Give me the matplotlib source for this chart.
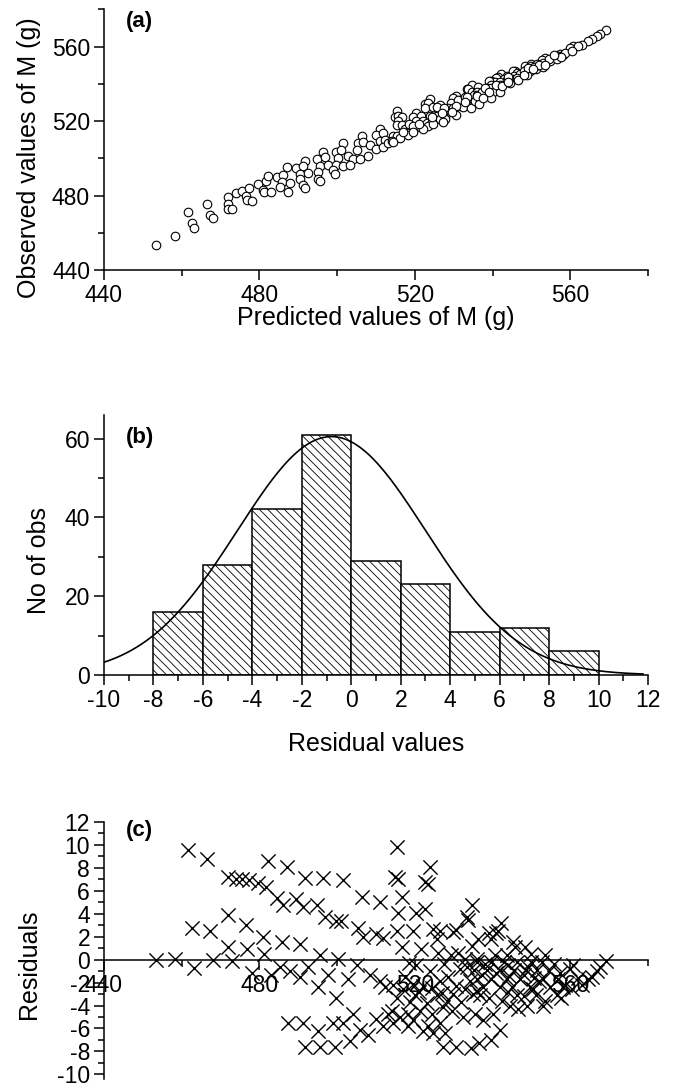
import numpy as np
import matplotlib
matplotlib.use("Agg")
import matplotlib.pyplot as plt
from matplotlib.ticker import MultipleLocator

plt.rcParams['font.family'] = ['Liberation Sans', 'DejaVu Sans']
plt.rcParams['hatch.linewidth'] = 0.6
plt.rcParams['axes.unicode_minus'] = False

#--- data ---#

# panel (c): residual vs predicted M (g); panel (a) uses observed = predicted + residual
predicted = [
    453.5, 458.2, 461.6, 462.7, 463.1, 466.5, 467.2, 468.1, 471.8, 471.8,
    471.9, 473.0, 474.1, 475.4, 476.5, 476.7, 477.3, 478.0, 479.7, 480.9,
    481.2, 481.6, 482.1, 484.4, 483.1,
    487.0, 491.7, 496.4, 501.5, 506.3, 511.0, 486.1, 489.5, 491.2, 494.7,
    496.8, 499.8, 501.1, 505.4, 506.7, 510.1, 511.8, 485.7, 490.4, 495.5,
    500.3, 505.0, 485.2, 487.8, 490.4, 492.5, 497.7, 502.8, 495.1, 499.8,
    508.4, 511.0, 512.3, 487.4, 491.2, 495.1, 499.0, 501.5, 504.1, 505.8,
    508.0, 510.1, 511.8, 513.1, 491.7, 495.5, 499.4, 503.3,
    515.5, 514.8, 515.7, 523.9, 522.6, 523.4, 516.6, 515.7, 520.4, 522.6,
    534.6, 533.3, 533.6, 515.3, 519.6, 524.7, 526.4, 530.7, 529.9, 516.6,
    521.7, 526.0, 529.4, 534.6, 535.9, 520.4, 523.9, 517.4, 528.6, 531.6,
    514.4, 522.2, 526.4, 534.1, 515.3, 518.7, 520.0, 523.0, 525.6, 528.2,
    529.9, 532.0, 535.0, 514.0, 516.1, 518.3, 521.3, 524.3, 527.3, 532.4,
    514.4, 518.3, 523.4, 526.4, 522.2, 524.7, 527.7, 527.3, 530.7, 534.5,
    542.3, 541.4, 541.0, 536.3, 539.7, 545.7, 548.3, 550.0, 553.5, 543.6,
    540.6, 557.3, 539.1, 525.8, 545.2, 531.0, 533.0,
    536.0, 539.5, 542.9, 546.3, 549.8, 552.8,
    535.1, 538.6, 542.0, 545.4, 548.5, 551.5,
    536.0, 539.5, 543.7, 547.1, 553.1, 556.9,
    537.6, 541.9, 544.9, 549.6, 554.8, 558.2,
    536.7, 546.2, 551.3, 556.5,
    544.5, 548.8, 553.1, 546.6, 535.4, 540.1, 541.9, 536.5, 539.5,
    569.3, 567.6, 566.8, 565.5, 564.6, 560.8, 559.9, 562.9, 558.6, 557.7, 562.0,
    518.5, 527.5, 533.5, 537.2, 540.8, 544.2, 548.0, 550.6, 554.5, 555.7,
    544.0, 538.0, 549.0, 552.0,
    517.0, 519.5, 521.0, 524.5, 527.0, 530.5, 533.0, 536.0, 539.0, 542.5,
    544.0, 548.0, 550.5, 553.5, 560.5,
    529.5, 537.5, 519.5,
]
residuals = [
    0.0, 0.1, 9.55, 2.8, -0.7, 8.8, 2.5, 0.0, 7.2, 3.9,
    1.1, -0.1, 7.0, 7.0, 3.0, 0.9, 6.9, -1.2, 6.7, 2.0,
    0.5, 6.3, 8.6, 5.4, -1.3,
    8.1, 7.1, 7.1, 6.9, 5.5, 5.0, 4.8, 5.3, 4.6, 4.8,
    3.7, 3.4, 3.4, 2.8, 2.0, 2.2, 1.9, 1.5, 1.4, 0.4,
    0.1, -0.5, -0.6, -1.0, -1.5, -0.6, -1.3, -1.7, -2.4, -3.3,
    -1.3, -1.9, -2.4, -5.5, -5.5, -6.2, -5.5, -5.5, -4.7, -6.1,
    -6.6, -5.2, -5.8, -4.7, -7.6, -7.6, -7.6, -7.1,
    9.8, 7.2, 7.0, 8.1, 6.8, 6.6, 5.5, 4.1, 4.1, 4.4,
    4.8, 3.7, 3.5, 2.5, 2.5, 2.7, 2.5, 2.6, 2.4, 1.1,
    0.9, 0.6, 0.4, 1.2, 0.1, -0.5, -1.0, -1.5, -1.5, -0.8,
    -2.2, -2.3, -1.9, -1.9, -3.3, -3.7, -3.1, -3.8, -3.1, -3.6,
    -3.0, -3.7, -3.0, -4.5, -5.0, -4.7, -4.5, -4.7, -4.1, -5.0,
    -5.5, -5.8, -5.8, -5.5, -6.2, -6.4, -6.4, -7.6, -7.6, -7.7,
    3.2, 2.5, 2.3, 1.8, 1.8, 1.1, 1.1, 0.5, 0.4, 0.4,
    0.4, -1.2, 2.3, 1.8, 1.5, 0.6, 0.1,
    -0.2, -0.2, -0.2, -0.2, -0.2, -0.2,
    -0.9, -0.9, -0.9, -0.9, -0.9, -0.9,
    -1.7, -1.7, -1.7, -1.7, -1.7, -1.7,
    -2.4, -2.4, -2.4, -2.4, -2.4, -2.4,
    -3.1, -3.1, -3.1, -3.1,
    -4.0, -4.0, -4.0, -4.3, -4.7, -4.7, -6.1, -7.3, -7.0,
    -0.1, -0.6, -1.0, -1.5, -1.7, -0.5, -0.8, -2.2, -2.2, -3.3, -1.6,
    -0.3, -0.4, -0.6, -1.3, -1.2, -1.4, -1.3, -1.6, -1.0, -0.4,
    -0.5, -0.4, -0.6, -1.9,
    -2.6, -2.1, -2.8, -2.5, -2.9, -2.3, -2.6, -2.7, -3.3, -3.6,
    -2.8, -3.2, -2.6, -3.6, -2.6,
    -4.5, -5.3, -5.3,
]

# panel (b): histogram of residuals
bin_left = [-8, -6, -4, -2, 0, 2, 4, 6, 8]
bin_counts = [16, 28, 42, 61, 29, 23, 11, 12, 6]
bin_width = 2
# fitted normal curve, as drawn
fit_peak = 60.5
fit_mean = -0.8
fit_sd = 3.8

x_ticks_pred = [440, 480, 520, 560]
hist_ticks = [-10, -8, -6, -4, -2, 0, 2, 4, 6, 8, 10, 12]

TICK_FONT = ['Liberation Sans Narrow', 'Liberation Sans', 'DejaVu Sans']


def style(ax):
    ax.spines['top'].set_visible(False)
    ax.spines['right'].set_visible(False)
    ax.spines['left'].set_linewidth(1.1)
    ax.spines['bottom'].set_linewidth(1.1)
    ax.tick_params(which='major', direction='out', length=7, width=1.1,
                   labelsize=16.5, pad=3)
    ax.tick_params(which='minor', direction='out', length=4, width=1.1)


def tick_font(ax):
    for lab in ax.get_xticklabels() + ax.get_yticklabels():
        lab.set_family(TICK_FONT)


fig = plt.figure(figsize=(6.74, 10.89), dpi=100)

#--- (a) observed vs predicted ---#
axA = fig.add_axes([0.1543, 0.7521, 0.8071, 0.2392])
style(axA)
observed = np.array(predicted) + np.array(residuals)
axA.scatter(predicted, observed, s=38, facecolors='white', edgecolors='black',
            linewidths=0.8, zorder=3)
axA.set_xlim(440, 580)
axA.set_ylim(440, 580)
axA.set_xticks(x_ticks_pred)
axA.set_yticks([440, 480, 520, 560])
axA.xaxis.set_minor_locator(MultipleLocator(20))
axA.yaxis.set_minor_locator(MultipleLocator(20))
axA.set_xlabel('Predicted values of M (g)', fontsize=18)
axA.set_ylabel('Observed values of M (g)', fontsize=18)
axA.xaxis.set_label_coords(0.5, -0.14)
axA.yaxis.set_label_coords(-0.115, 0.43)
axA.text(0.04, 0.955, '(a)', transform=axA.transAxes, fontsize=16,
         fontweight='bold', va='center', ha='left')
tick_font(axA)

#--- (b) histogram ---#
axB = fig.add_axes([0.1543, 0.3802, 0.8071, 0.2388])
style(axB)
axB.bar(bin_left, bin_counts, width=bin_width, align='edge', facecolor='white',
        edgecolor='black', hatch='\\\\\\\\', linewidth=1.1, zorder=2)
xc = np.linspace(-10, 11.8, 300)
axB.plot(xc, fit_peak * np.exp(-0.5 * ((xc - fit_mean) / fit_sd) ** 2),
         color='black', linewidth=1.2, zorder=3)
axB.set_xlim(-10, 12)
axB.set_ylim(0, 66)
axB.set_xticks(hist_ticks)
axB.set_yticks([0, 20, 40, 60])
axB.xaxis.set_minor_locator(MultipleLocator(1))
axB.yaxis.set_minor_locator(MultipleLocator(10))
axB.set_xlabel('Residual values', fontsize=18)
axB.set_ylabel('No of obs', fontsize=18)
axB.xaxis.set_label_coords(0.5, -0.22)
axB.yaxis.set_label_coords(-0.098, 0.44)
axB.text(0.04, 0.915, '(b)', transform=axB.transAxes, fontsize=16,
         fontweight='bold', va='center', ha='left')
tick_font(axB)

#--- (c) residuals vs predicted ---#
axC = fig.add_axes([0.1543, 0.0092, 0.8071, 0.2360])
style(axC)
axC.spines['bottom'].set_position(('data', 0))
axC.scatter(predicted, residuals, marker='x', s=105, color='black',
            linewidths=1.0, zorder=3)
axC.set_xlim(440, 580)
axC.set_ylim(-10.4, 12)
axC.set_xticks(x_ticks_pred)
axC.xaxis.set_minor_locator(MultipleLocator(20))
axC.set_yticks(range(-10, 13, 2))
axC.yaxis.set_minor_locator(MultipleLocator(1))
axC.set_ylabel('Residuals', fontsize=18)
axC.yaxis.set_label_coords(-0.115, 0.445)
axC.text(0.04, 0.965, '(c)', transform=axC.transAxes, fontsize=16,
         fontweight='bold', va='center', ha='left')
tick_font(axC)

fig.savefig('out.png', dpi=100)
